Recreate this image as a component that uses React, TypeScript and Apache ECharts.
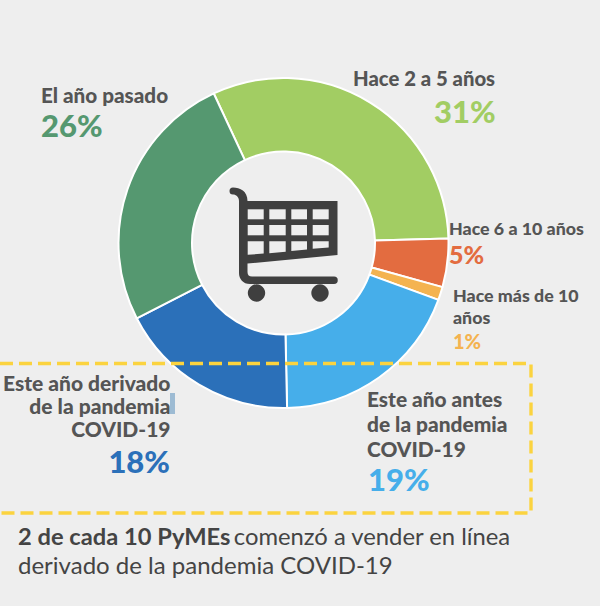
import React, { useEffect, useRef } from "react";
import * as echarts from "echarts";

const categories = ["Hace 2 a 5 años", "Hace 6 a 10 años", "Hace más de 10 años", "Este año antes de la pandemia COVID-19", "Este año derivado de la pandemia COVID-19", "El año pasado"];
const values = [31.5, 4.75, 1.3, 19.05, 17.8, 25.6];
const pctLabels = ["31%", "5%", "1%", "19%", "18%", "26%"];
const colors = ["#a2cd63", "#e36c40", "#f4b350", "#46aeea", "#2b70b9", "#559870"];
const labelLines = [["Hace 2 a 5 años"], ["Hace 6 a 10 años"], ["Hace más de 10", "años"], ["Este año antes", "de la pandemia", "COVID-19"], ["Este año derivado", "de la pandemia", "COVID-19"], ["El año pasado"]];
const labelAnchors: [number, number, string, number, number, number][] = [
  [353, 68, "left", 434, 95, 0],
  [449, 219, "left", 449, 241, 0],
  [453, 286, "left", 453, 331, 22],
  [367, 388, "left", 368, 463, 25],
  [170.5, 372, "right", 170, 445, 23],
  [41, 84, "left", 41, 109, 0],
];
const labelSizes = [20.3, 17.8, 17.8, 20.9, 21, 20.7];
const pctSizes = [31, 25, 20, 31, 31, 31];
const BG = "#eeeeee";
const DARK = "#3f3f3f";

const cartBody =
  "M233 187.5 C240 187.5 247.5 191 247.5 201 L337.5 201 L337.5 255 L247.5 263.5 L247.5 272 C247.5 275 249 276.5 252 276.5 L334 276.5 A3.5 3.5 0 0 1 334 284 L250 284 C243 284 239 279 239 273 L239 201 C239 197 236 194.5 233 194.5 A3.5 3.5 0 0 1 233 187.5 Z";
echarts.graphic.registerShape("cartBody", echarts.graphic.extendPath(cartBody, {}) as any);

const windowCols = [[247.7, 263.7], [269.3, 285.7], [291.3, 307], [312.7, 328.7]];
const windowRows = [[209.3, 219.3], [225, 235.3], [241.3, 254.5]];
const windowBottomL = [254.8, 253.2, 251, 248.8];
const windowBottomR = [253.5, 251.8, 249.6, 247.4];

export default function App() {
  const ref = useRef<HTMLDivElement>(null);
  useEffect(() => {
    document.body.style.margin = "0";
    document.body.style.background = BG;
    const chart = echarts.init(ref.current!, undefined, { renderer: "svg" });
    const graphics: any[] = [];
    const F = "Lato";
    labelLines.forEach((lines, i) => {
      const [x, y, align, px, py, gap] = labelAnchors[i];
      lines.forEach((t, j) => {
        graphics.push({ type: "text", z: 20, x, y: y + j * gap, style: { text: t, fontFamily: F, fontWeight: 900, fontSize: labelSizes[i], fill: "#555555", textAlign: align } });
      });
      graphics.push({ type: "text", z: 20, x: px, y: py, style: { text: pctLabels[i], fontFamily: F, fontWeight: 900, fontSize: pctSizes[i], fill: colors[i], textAlign: align } });
    });
    graphics.push({ type: "rect", z: 20, shape: { x: 170, y: 393, width: 5, height: 21 }, style: { fill: "#9dbbd3" } });
    graphics.push({ type: "polyline", z: 15, shape: { points: [[0, 363.5], [531, 363.5], [531, 513], [0, 513]] }, style: { stroke: "#fbd33f", lineWidth: 3.4, lineDash: [13, 6], fill: "none" } });
    graphics.push({
      type: "text", z: 20, x: 18, y: 521,
      style: {
        text: "{b|2 de cada 10 PyMEs} {r|comenzó a vender en línea}\n{s|derivado de la pandemia COVID-19}",
        rich: {
          b: { fontFamily: F, fontWeight: 700, fontSize: 23.7, fill: "#444444", lineHeight: 29 },
          r: { fontFamily: F, fontWeight: 400, fontSize: 23.8, fill: "#444444", lineHeight: 29 },
          s: { fontFamily: F, fontWeight: 400, fontSize: 24, fill: "#444444", lineHeight: 29 },
        },
      },
    });
    graphics.push({ type: "cartBody", z: 20, style: { fill: DARK } });
    windowCols.forEach((c, ci) => {
      windowRows.forEach((r, ri) => {
        graphics.push({
          type: "polygon", z: 21,
          shape: { points: ri === 2
            ? [[c[0], r[0]], [c[1], r[0]], [c[1], windowBottomR[ci]], [c[0], windowBottomL[ci]]]
            : [[c[0], r[0]], [c[1], r[0]], [c[1], r[1]], [c[0], r[1]]] },
          style: { fill: BG },
        });
      });
    });
    graphics.push({ type: "circle", z: 20, shape: { cx: 256.5, cy: 293, r: 8.7 }, style: { fill: DARK } });
    graphics.push({ type: "circle", z: 20, shape: { cx: 320, cy: 293, r: 8.7 }, style: { fill: DARK } });
    chart.setOption({
      animation: false,
      backgroundColor: BG,
      series: [{
        type: "pie",
        center: [283.5, 243],
        radius: [91.5, 165],
        startAngle: 115,
        clockwise: true,
        label: { show: false },
        labelLine: { show: false },
        itemStyle: { borderColor: "#ffffff", borderWidth: 2 },
        emphasis: { disabled: true },
        data: categories.map((name, i) => ({ name, value: values[i], itemStyle: { color: colors[i] } })),
      }],
      graphic: { elements: graphics },
    });
    return () => chart.dispose();
  }, []);
  return <div ref={ref} style={{ width: 600, height: 606, position: "absolute", left: 0, top: 0 }} />;
}
